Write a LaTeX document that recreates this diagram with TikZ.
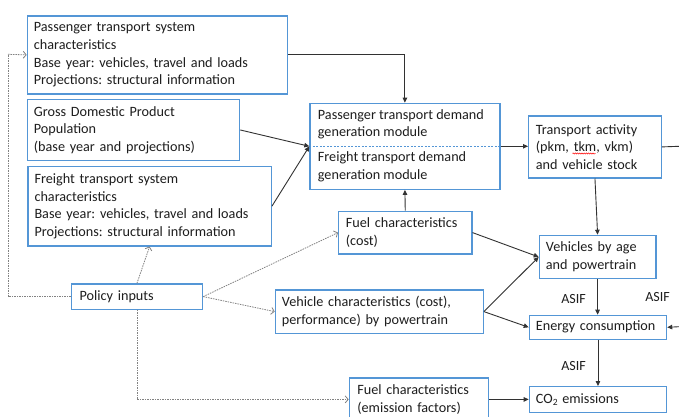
\documentclass[tikz,border=0pt]{standalone}
\usepackage{fontspec}
\setmainfont{Carlito}
\usetikzlibrary{arrows.meta,decorations.pathmorphing}
\definecolor{boxblue}{RGB}{84,150,214}
\definecolor{txtc}{RGB}{30,30,30}
\definecolor{linec}{RGB}{50,50,50}
\definecolor{dotc}{RGB}{130,130,130}
\frenchspacing
\begin{document}
\frenchspacing
\begin{tikzpicture}[x=1pt,y=-1pt,
  box/.style={draw=boxblue, line width=1.2pt, inner xsep=6.6pt, inner ysep=0pt, align=left, anchor=north west, font=\fontsize{14.2}{17.6}\selectfont, text=txtc},
  arr/.style={draw=linec, line width=0.9pt, -{Triangle[length=5pt,width=4.5pt]}},
  plain/.style={draw=linec, line width=0.9pt},
  pol/.style={draw=dotc, line width=0.8pt, dash pattern=on 1.5pt off 1pt, -{Straight Barb[length=3pt,width=7pt]}},
  pollin/.style={draw=dotc, line width=0.8pt, dash pattern=on 1.5pt off 1pt},
  lbl/.style={font=\fontsize{14}{16}\selectfont, text=txtc, inner sep=0pt}]
\fill[white] (0,0) rectangle (679,416);
\clip (0,0) rectangle (679,416);

% boxes
\node[box, text width=247.1pt, minimum height=78pt] (b1) at (26.7,15.3) {Passenger transport system\\characteristics\\Base year: vehicles, travel and loads\\Projections: structural information};
\node[box, text width=199.1pt, minimum height=61.3pt] (b2) at (26.7,98.7) {Gross Domestic Product\\Population\\(base year and projections)};
\node[box, text width=230.2pt, minimum height=79.3pt] (b3) at (27.3,166) {Freight transport system\\characteristics\\Base year: vehicles, travel and loads\\Projections: structural information};
\node[box, inner xsep=8.3pt, text width=114.7pt, minimum height=25.4pt] (pol) at (70.7,283.3) {Policy inputs};
\node[draw=boxblue, line width=1.2pt, inner sep=0pt, minimum width=190pt, minimum height=86pt, anchor=north west] (dm) at (309.3,102.7) {};
\draw[draw=boxblue, line width=0.8pt, dash pattern=on 2pt off 1.5pt] (dm.west) -- (dm.east);
\node[box, draw=none, inner xsep=0pt, anchor=west] (dmp) at (317.3,124.3) {Passenger transport demand\\generation module};
\node[box, draw=none, inner xsep=0pt, anchor=west] (dmf) at (317.3,167) {Freight transport demand\\generation module};
\node[box, inner xsep=7.3pt, text width=118.1pt, minimum height=62pt] (ta) at (528,115.3) {Transport activity\\(pkm, tkm, vkm)\\and vehicle stock};
\draw[red, line width=0.5pt, decorate, decoration={snake, amplitude=0.6pt, segment length=2.2pt}] (572.5,153.5) -- (595.5,153.5);
\node[box, inner xsep=7.3pt, text width=118.7pt, minimum height=42.6pt] (fc) at (338,210.7) {Fuel characteristics\\(cost)};
\node[box, text width=103.4pt, minimum height=43.3pt] (vba) at (538.7,234.7) {Vehicles by age\\and powertrain};
\node[box, text width=194.8pt, minimum height=43.4pt] (vc) at (274.7,289.3) {Vehicle characteristics (cost),\\performance) by powertrain};
\node[box, text width=124.1pt, minimum height=24pt] (ec) at (528.7,314.7) {Energy consumption};
\node[box, inner xsep=8pt, text width=123.3pt, minimum height=43pt] (fe) at (348.7,377.3) {Fuel characteristics\\(emission factors)};
\node[box, text width=124.1pt, minimum height=26pt] (co2) at (528.7,386) {CO\raisebox{-0.3ex}{\fontsize{9.5}{10}\selectfont 2} emissions};

% labels
\node[lbl] (asif1) at (573.5,299) {ASIF};
\node[lbl] (asif2) at (657.5,296.7) {ASIF};
\node[lbl] (asif3) at (573.5,366) {ASIF};

% coordinates at the edges
\coordinate (rout) at (679,146.3);
\coordinate (rin) at (679,326.7);
\coordinate (lft) at (8,54.3);

% solid connectors
\draw[arr] (b1.east) -| (dm.north);
\draw[arr] (b2.east) -- (dm.west);
\draw[arr] (b3.east) -- (dm.west);
\draw[arr] (dm.east) -- (dm.east -| ta.west);
\draw[plain] (ta.east) -- (rout);
\draw[arr] (ta.south) -- (vba.north);
\draw[arr] (fc.north) -- (dm.south);
\draw[arr] (fc.east) -- (vba.west);
\draw[arr] (vc.east) -- (vba.west);
\draw[arr] (vc.east) -- (ec.west);
\draw[arr] (vba.south) -- (vba.south |- ec.north);
\draw[arr] (rin) -- (ec.east);
\draw[arr] (ec.south) -- (ec.south |- co2.north);
\draw[arr] (fe.east) -- (fe.east -| co2.west);

% policy connectors
\draw[pollin] (pol.west) -| (lft);
\draw[pol] (lft) -- (b1.west);
\draw[pol] (pol.north) -- (b3.south);
\draw[pol] (pol.east) -- (fc.west);
\draw[pol] (pol.east) -- (vc.west);
\draw[pol] (pol.south) |- (fe.west);
\end{tikzpicture}
\end{document}
